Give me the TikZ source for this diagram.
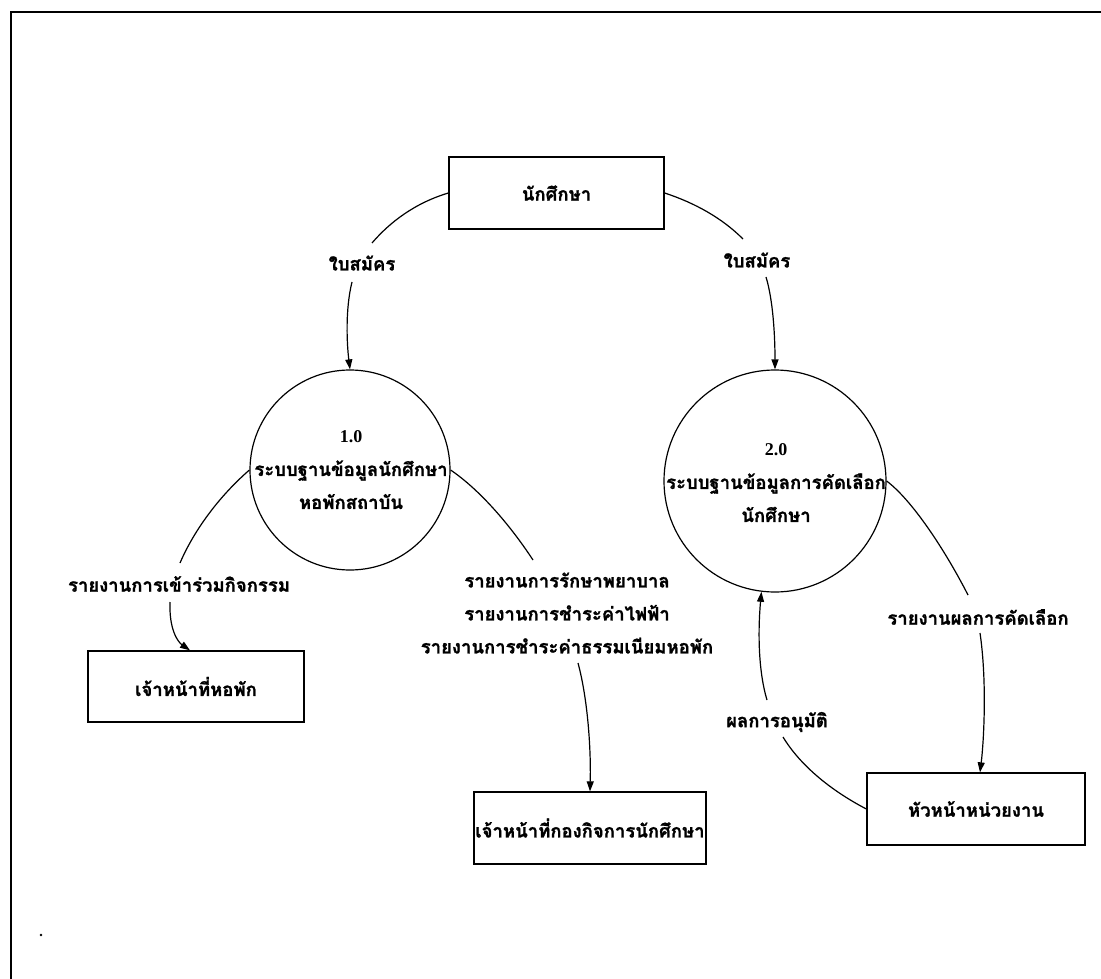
\documentclass[tikz,border=0pt]{standalone}
\usepackage{fontspec}
\setmainfont{Liberation Serif}
\newfontfamily\thai[Script=Thai,BoldFeatures={FakeBold=1.2}]{Loma}
\newfontfamily\numfont{Liberation Serif}
\usetikzlibrary{arrows.meta}
\begin{document}
\begin{tikzpicture}[x=1pt,y=-1pt,
  ext/.style={draw, rectangle, line width=1.3pt, inner sep=0pt,
    font=\thai\bfseries\fontsize{18.5}{33}\selectfont},
  proc/.style={draw, circle, line width=1.2pt, inner sep=0pt},
  lbl/.style={inner sep=1pt, align=center,
    font=\thai\bfseries\fontsize{18.5}{33}\selectfont},
  flow/.style={line width=1.2pt},
  flowarrow/.style={line width=1.2pt, -{Triangle[length=10pt,width=7pt]}}]
\useasboundingbox (0,0) rectangle (1101,979);
% frame
\draw[line width=2pt] (1101,12) -- (11,12) -- (11,979);
% entities and processes
\node[ext, minimum width=215pt, minimum height=72pt] (stu) at (556.5,193) {นักศึกษา};
\node[proc, minimum size=200pt] (p1) at (350,470) {};
\node[lbl] (p1t) at (351,470) {{\numfont\bfseries\fontsize{18}{33}\selectfont 1.0}\\ระบบฐานข้อมูลนักศึกษา\\หอพักสถาบัน};
\node[proc, minimum size=222pt] (p2) at (775,481) {};
\node[lbl] (p2t) at (776,483) {{\numfont\bfseries\fontsize{18}{33}\selectfont 2.0}\\ระบบฐานข้อมูลการคัดเลือก\\นักศึกษา};
\node[ext, minimum width=216pt, minimum height=71pt] (dorm) at (196,686.5) {เจ้าหน้าที่หอพัก};
\node[ext, minimum width=232pt, minimum height=72pt] (sa) at (590,828) {เจ้าหน้าที่กองกิจการนักศึกษา};
\node[ext, minimum width=218pt, minimum height=72pt] (head) at (976,809) {หัวหน้าหน่วยงาน};
% flow labels
\node[lbl] (l1) at (362,263) {ใบสมัคร};
\node[lbl] (l2) at (757,260) {ใบสมัคร};
\node[lbl] (l3) at (179,584) {รายงานการเข้าร่วมกิจกรรม};
\node[lbl] (l4) at (567,613) {รายงานการรักษาพยาบาล\\รายงานการชำระค่าไฟฟ้า\\รายงานการชำระค่าธรรมเนียมหอพัก};
\node[lbl] (l5) at (978,617) {รายงานผลการคัดเลือก};
\node[lbl] (l6) at (777,722) {ผลการอนุมัติ};
% free ends of connectors
\coordinate (a1) at (372,243); \coordinate (b1) at (352,282);
\coordinate (a2) at (743,239); \coordinate (b2) at (766,277);
\coordinate (a3) at (180,563); \coordinate (b3) at (170,602);
\coordinate (a4) at (533,560); \coordinate (b4) at (578,663);
\coordinate (a5) at (968,595); \coordinate (b5) at (980,633);
\coordinate (a6) at (783,737); \coordinate (b6) at (767,700);
% connectors
\draw[flow] (stu.west) .. controls (415,203) and (390,222) .. (a1);
\draw[flowarrow] (b1) .. controls (345,310) and (347,345) .. (p1.north);
\draw[flow] (stu.east) .. controls (695,203) and (722,218) .. (a2);
\draw[flowarrow] (b2) .. controls (773,300) and (775,335) .. (p2.north);
\draw[flow] (p1.west) .. controls (215,500) and (192,535) .. (a3);
\draw[flowarrow] (b3) .. controls (169,630) and (178,642) .. ([xshift=-6pt]dorm.north);
\draw[flow] (p1.east) .. controls (480,490) and (510,525) .. (a4);
\draw[flowarrow] (b4) .. controls (588,700) and (591,750) .. (sa.north);
\draw[flow] (p2.east) .. controls (912,500) and (945,550) .. (a5);
\draw[flowarrow] (b5) .. controls (987,680) and (984,740) .. ([xshift=4pt]head.north);
\draw[flow] (head.west) .. controls (830,790) and (800,765) .. (a6);
\draw[flowarrow] (b6) .. controls (758,670) and (758,630) .. (p2.263);
% stray dot
\fill (41,935) circle (1.3pt);
\end{tikzpicture}
\end{document}
